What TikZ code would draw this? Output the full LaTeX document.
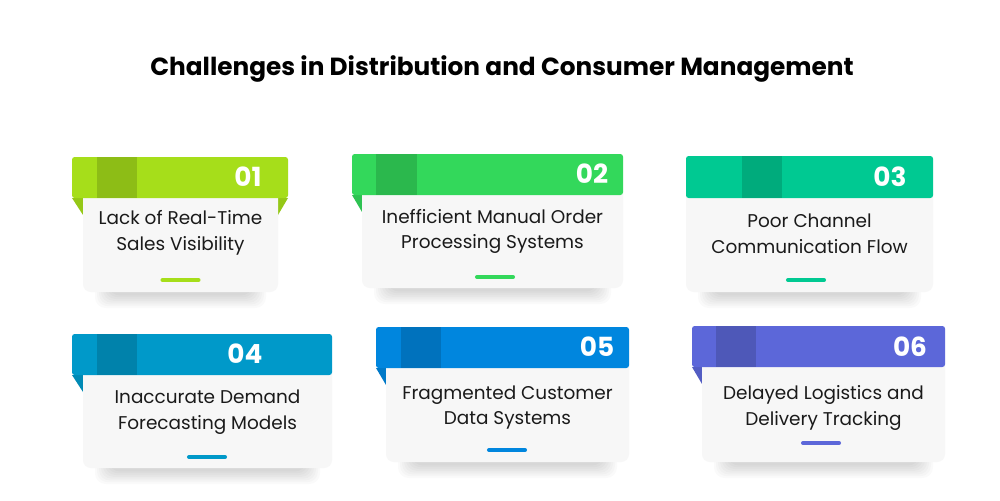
\documentclass[tikz,border=0pt]{standalone}
\usepackage{fontspec}
\setmainfont{Poppins}
\usepackage{tikz}
\definecolor{limegreen}{RGB}{166,222,26}
\definecolor{leafgreen}{RGB}{51,216,91}
\definecolor{mintgreen}{RGB}{0,201,146}
\definecolor{oceanblue}{RGB}{0,153,201}
\definecolor{skyblue}{RGB}{0,134,222}
\definecolor{violetblue}{RGB}{92,103,217}
\definecolor{paper}{RGB}{247,247,247}
\definecolor{ink}{RGB}{26,26,26}
\tikzset{
	cardbody/.style={fill=paper, rounded corners=4.5pt},
	softshade/.style={fill=black, opacity=0.018, rounded corners=6pt},
	cardhead/.style={fill=#1, rounded corners=1.5pt},
	headmark/.style={fill=#1!85!black},
	flap/.style={fill=#1!90!black},
	cardnum/.style={text=white, font=\bfseries\fontsize{15}{15}\selectfont},
	cardtext/.style={align=center, text=ink, font=\fontsize{10.5}{14.7}\selectfont},
	bar/.style={draw=#1, line width=2.3pt, line cap=round},
	heading/.style={text=black, font=\bfseries\fontsize{14.1}{14.1}\selectfont},
}
% soft shadow under a card body: left, right, bottom
\newcommand{\cardshadow}[3]{%
	\foreach \k in {0,...,7}
		\fill[softshade] (#1+12+2*\k,#3-30) rectangle (#2-12-2*\k,#3+16-1.8*\k);}
\begin{document}
\begin{tikzpicture}[x=0.02cm, y=-0.02cm]
	\useasboundingbox[fill=white] (0,0) rectangle (1000,500);
	\node[heading] (title) at (502,69) {Challenges in Distribution and Consumer Management};
% 01
\begin{scope}[shift={(72,157)}]
	\cardshadow{11}{206}{135}
	\fill[flap=limegreen] (0,41) -- (11,41) -- (11,58) -- cycle;
	\fill[flap=limegreen] (216,41) -- (206,41) -- (206,58) -- cycle;
	\path[cardbody] (11,30) rectangle (206,135);
	\fill[cardhead=limegreen] (0,0) rectangle (216,41);
	\fill[headmark=limegreen] (25,0) rectangle (65,41);
	\node[cardnum] (n1) at (176,20) {01};
	\node[cardtext] (t1) at (108.5,76) {Lack of Real-Time\\Sales Visibility};
	\draw[bar=limegreen] (90.5,123) -- (126.5,123);
\end{scope}
% 02
\begin{scope}[shift={(352,154)}]
	\cardshadow{10}{271}{134}
	\fill[flap=leafgreen] (0,41) -- (10,41) -- (10,58) -- cycle;
	\path[cardbody] (10,30) rectangle (271,134);
	\fill[cardhead=leafgreen] (0,0) rectangle (271,41);
	\fill[headmark=leafgreen] (24,0) rectangle (65,41);
	\node[cardnum] (n2) at (240,20) {02};
	\node[cardtext] (t2) at (140.5,77.5) {Inefficient Manual Order\\Processing Systems};
	\draw[bar=leafgreen] (125,123) -- (161,123);
\end{scope}
% 03
\begin{scope}[shift={(686,156)}]
	\cardshadow{0}{247}{136}
	\path[cardbody] (0,30) rectangle (247,136);
	\fill[cardhead=mintgreen] (0,0) rectangle (247,42);
	\fill[headmark=mintgreen] (56,0) rectangle (96,42);
	\node[cardnum] (n3) at (204,21) {03};
	\node[cardtext] (t3) at (123.5,78) {Poor Channel\\Communication Flow};
	\draw[bar=mintgreen] (102,124) -- (138,124);
\end{scope}
% 04
\begin{scope}[shift={(72,334)}]
	\cardshadow{11}{260}{134}
	\fill[flap=oceanblue] (0,41) -- (11,41) -- (11,58) -- cycle;
	\path[cardbody] (11,30) rectangle (260,134);
	\fill[cardhead=oceanblue] (0,0) rectangle (260,41);
	\fill[headmark=oceanblue] (25,0) rectangle (65,41);
	\node[cardnum] (n4) at (173,20) {04};
	\node[cardtext] (t4) at (135.5,78.5) {Inaccurate Demand\\Forecasting Models};
	\draw[bar=oceanblue] (117,123) -- (153,123);
\end{scope}
% 05
\begin{scope}[shift={(376,327)}]
	\cardshadow{10}{253}{135}
	\fill[flap=skyblue] (0,41) -- (10,41) -- (10,58) -- cycle;
	\path[cardbody] (10,30) rectangle (253,135);
	\fill[cardhead=skyblue] (0,0) rectangle (253,41);
	\fill[headmark=skyblue] (25,0) rectangle (65,41);
	\node[cardnum] (n5) at (221,20) {05};
	\node[cardtext] (t5) at (131.5,80.5) {Fragmented Customer\\Data Systems};
	\draw[bar=skyblue] (113,123) -- (149,123);
\end{scope}
% 06
\begin{scope}[shift={(692,326)}]
	\cardshadow{10}{253}{136}
	\fill[flap=violetblue] (0,41) -- (10,41) -- (10,58) -- cycle;
	\path[cardbody] (10,30) rectangle (253,136);
	\fill[cardhead=violetblue] (0,0) rectangle (253,41);
	\fill[headmark=violetblue] (24,0) rectangle (64,41);
	\node[cardnum] (n6) at (218,21) {06};
	\node[cardtext] (t6) at (131.5,82) {Delayed Logistics and\\Delivery Tracking};
	\draw[bar=violetblue] (111,117) -- (147,117);
\end{scope}
\end{tikzpicture}
\end{document}
